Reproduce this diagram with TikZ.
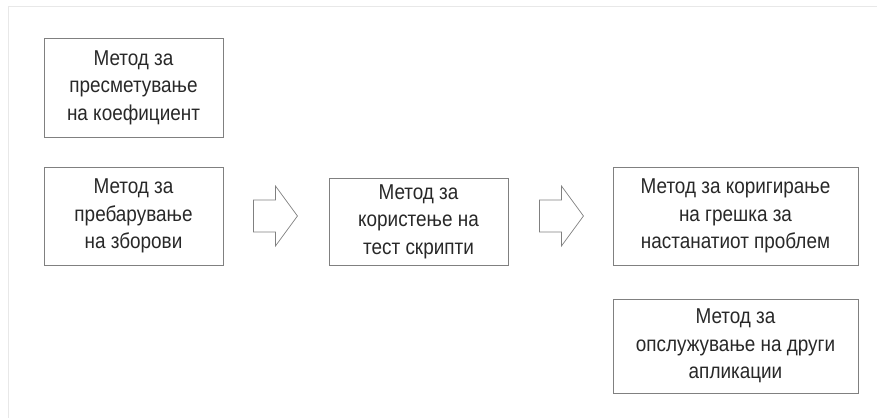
\documentclass[tikz,border=0pt]{standalone}
\usepackage{fontspec}
\setmainfont{Liberation Sans}
\newfontfamily\boxfont[FakeStretch=0.88]{Liberation Sans}
\usepackage{tikz}
\usetikzlibrary{positioning,calc}
\definecolor{frameCol}{RGB}{232,232,232}
\definecolor{lineCol}{RGB}{128,128,128}
\definecolor{txtCol}{RGB}{40,40,40}
\tikzset{
  method/.style={draw=lineCol,line width=0.9pt,align=center,inner sep=0pt,
                 text=txtCol,font=\boxfont\fontsize{21.5}{27.5}\selectfont,
                 minimum width=179pt},
  wide/.style={method,minimum width=245pt},
}

\begin{document}
\begin{tikzpicture}[x=1pt,y=-1pt,
      blockarr/.pic={\draw[lineCol,line width=0.7pt,fill=white]
          (0,-16) -- (22,-16) -- (22,-30) -- (44,0) -- (22,30) -- (22,16) -- (0,16) -- cycle;}]
    \useasboundingbox (0,0) rectangle (877,418);
    % light frame of the page
    \draw[frameCol,line width=1pt] (877,6) -- (8,6) -- (8,418);
    % left column
    \node[method,minimum height=99pt] (coef) at (133.5,87.5) {Метод за\\пресметување\\на коефициент};
    \node[method,minimum height=98pt] (search) at (133.5,216) {Метод за\\пребарување\\на зборови};
    % middle
    \node[method,minimum height=87pt] (tests) at (418.5,221.5) {Метод за\\користење на\\тест скрипти};
    % right column
    \node[wide,minimum height=98pt] (fix) at (735.5,216) {Метод за коригирање\\на грешка за\\настанатиот проблем};
    \node[wide,minimum height=94pt] (serve) at (735.5,346) {Метод за\\опслужување на други\\апликации};
    % block arrows between the steps
    \pic at ($(search.east)+(30,0)$) {blockarr};
    \pic at ($(tests.east)+(31,-5.5)$) {blockarr};
\end{tikzpicture}
\end{document}
